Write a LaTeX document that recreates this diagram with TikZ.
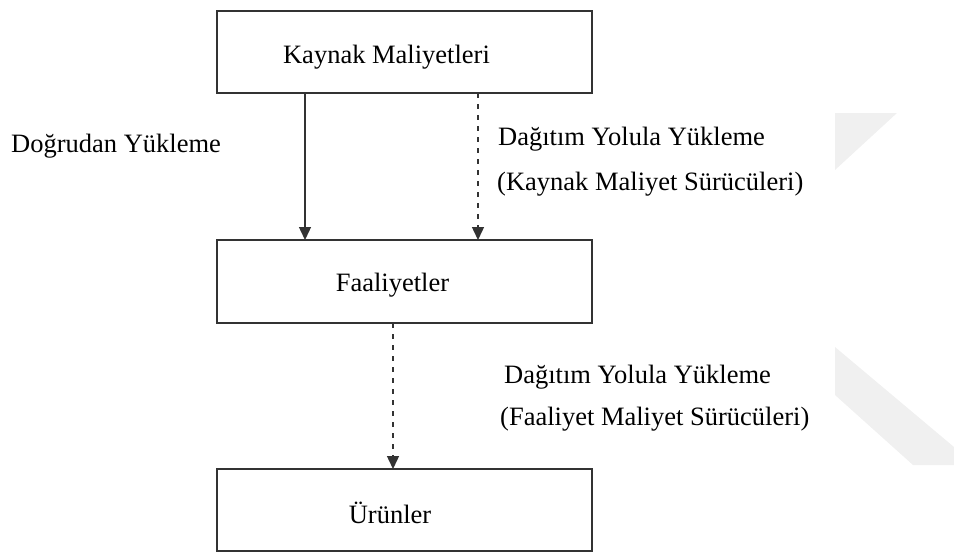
\documentclass[tikz,border=0pt]{standalone}
\usepackage{fontspec}
\setmainfont{Liberation Serif}
\usetikzlibrary{arrows.meta}
\definecolor{linegray}{HTML}{333333}
\definecolor{wmgray}{HTML}{F0F0F0}
\tikzset{
  box/.style={draw=linegray, line width=1.6pt, rectangle, fill=white,
              minimum width=375pt, inner sep=0pt, outer sep=0pt},
  lbl/.style={anchor=base, inner sep=0pt, font=\fontsize{26.5}{30}\selectfont},
  lblw/.style={anchor=base west, inner sep=0pt, font=\fontsize{26.5}{30}\selectfont},
  arr/.style={draw=linegray, line width=1.4pt, -{Triangle[width=12pt,length=13pt]}},
  darr/.style={arr, dash pattern=on 5pt off 6pt},
  wm/.style={fill=wmgray, draw=none}
}
\begin{document}
\begin{tikzpicture}[x=1pt, y=-1pt]
\useasboundingbox (0,0) rectangle (954,552);
% faint watermark
\fill[wm] (835,113) -- (897,113) -- (835,170) -- cycle;
\fill[wm] (835,347) -- (954,447) -- (954,465) -- (913,465) -- (835,395) -- cycle;
% boxes
\node[box, minimum height=82pt] (top) at (404.5,52) {};
\node[box, minimum height=83pt] (mid) at (404.5,281.5) {};
\node[box, minimum height=82pt] (bot) at (404.5,510) {};
% box texts
\node[lbl] (toptxt) at (386.5,63) {Kaynak Maliyetleri};
\node[lbl] (midtxt) at (392.5,291) {Faaliyetler};
\node[lbl] (bottxt) at (390,523) {Ürünler};
% arrow columns
\coordinate (c1) at (305,0);
\coordinate (c2) at (478,0);
\coordinate (c3) at (393,0);
\draw[arr] (top.south -| c1) -- (mid.north -| c1);
\draw[darr] (top.south -| c2) -- (mid.north -| c2);
\draw[darr] (mid.south -| c3) -- (bot.north -| c3);
% side labels
\node[lblw] (direct) at (11,152) {Doğrudan Yükleme};
\node[lblw] (dist1a) at (498,145) {Dağıtım Yolula Yükleme};
\node[lblw] (dist1b) at (497,190) {(Kaynak Maliyet Sürücüleri)};
\node[lblw] (dist2a) at (504,383) {Dağıtım Yolula Yükleme};
\node[lblw] (dist2b) at (500,425) {(Faaliyet Maliyet Sürücüleri)};
\end{tikzpicture}
\end{document}
